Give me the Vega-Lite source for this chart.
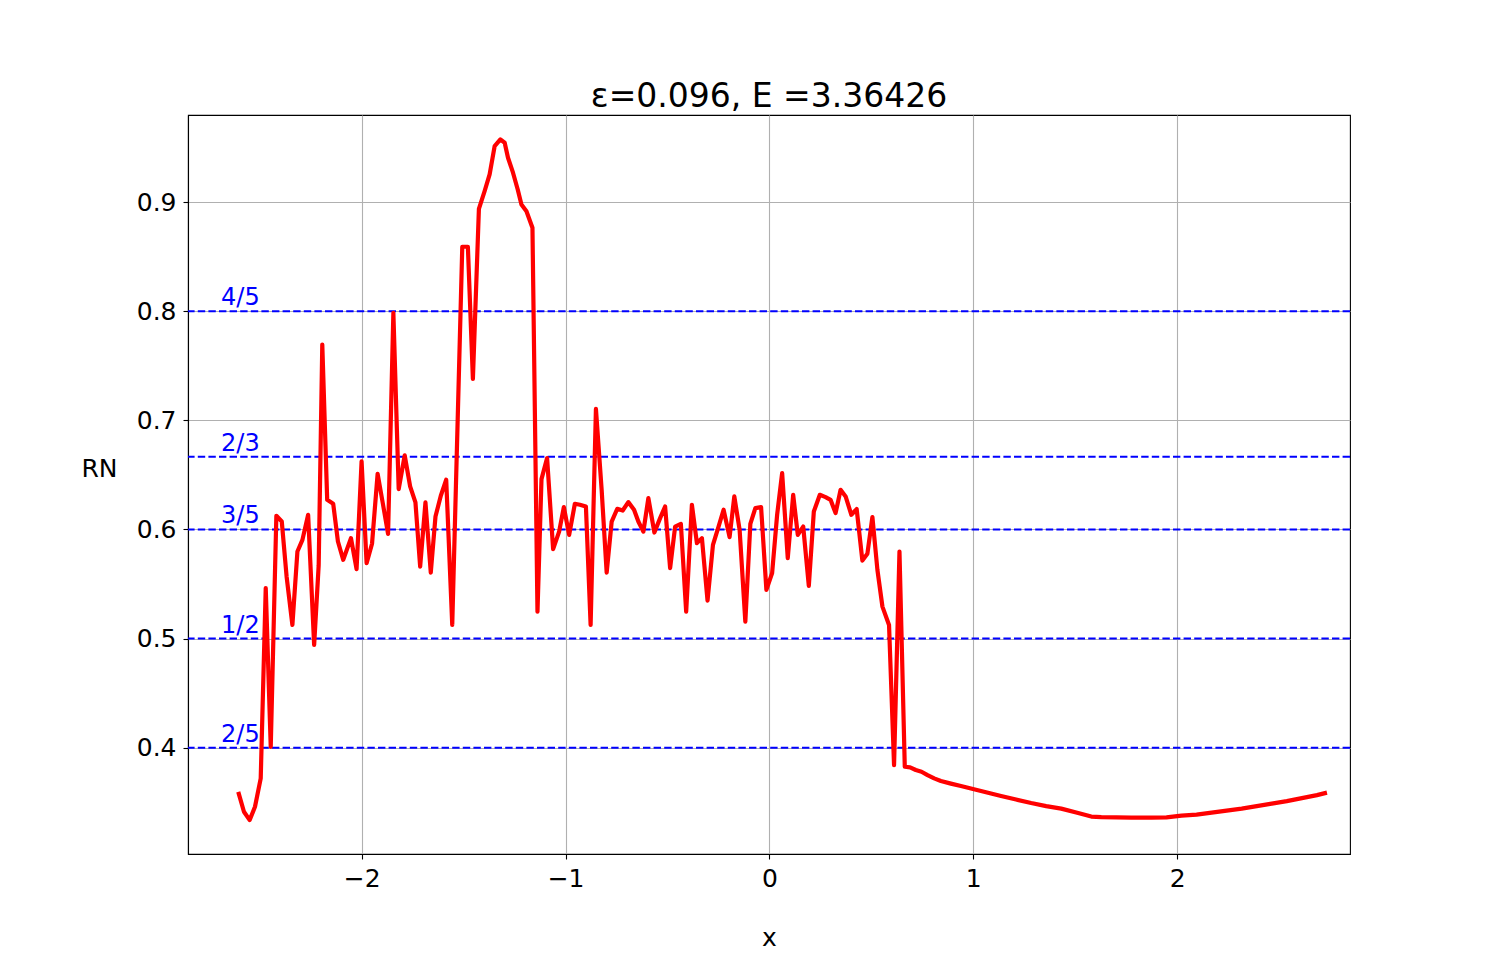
{
  "$schema": "https://vega.github.io/schema/vega-lite/v6.json",
  "width": 1162,
  "height": 739,
  "autosize": {"type": "none"},
  "padding": {"left": 188, "top": 115, "right": 150, "bottom": 105},
  "background": "white",
  "config": {
    "font": "DejaVu Sans",
    "view": {"stroke": "black", "strokeWidth": 1.1},
    "axis": {
      "labelFont": "DejaVu Sans",
      "titleFont": "DejaVu Sans",
      "labelFontSize": 25,
      "titleFontSize": 25,
      "titleFontWeight": "normal",
      "labelColor": "black",
      "titleColor": "black",
      "tickColor": "black",
      "tickSize": 5,
      "tickWidth": 1.1,
      "domainColor": "black",
      "domainWidth": 1.1,
      "gridColor": "#b0b0b0",
      "gridOpacity": 1,
      "gridWidth": 1.1,
      "labelPadding": 7
    }
  },
  "title": {
    "text": "ε=0.096, E =3.36426",
    "font": "DejaVu Sans",
    "fontSize": 33,
    "fontWeight": "normal",
    "color": "black",
    "anchor": "middle",
    "baseline": "bottom",
    "offset": -32
  },
  "datasets": {
    "levels": [
      {"value": 0.8, "label": "4/5"},
      {"value": 0.6666667, "label": "2/3"},
      {"value": 0.6, "label": "3/5"},
      {"value": 0.5, "label": "1/2"},
      {"value": 0.4, "label": "2/5"}
    ],
    "curve": [
      {"x": -2.6055, "y": 0.3595}, {"x": -2.5775, "y": 0.3412}, {"x": -2.5494, "y": 0.3336}, {"x": -2.5234, "y": 0.3458},
      {"x": -2.4953, "y": 0.3718}, {"x": -2.4707, "y": 0.5462}, {"x": -2.4461, "y": 0.4008}, {"x": -2.4186, "y": 0.6126},
      {"x": -2.392, "y": 0.6073}, {"x": -2.3684, "y": 0.557}, {"x": -2.3399, "y": 0.5125}, {"x": -2.3153, "y": 0.5798},
      {"x": -2.2907, "y": 0.5905}, {"x": -2.2627, "y": 0.6135}, {"x": -2.2332, "y": 0.4942}, {"x": -2.211, "y": 0.567},
      {"x": -2.1933, "y": 0.7695}, {"x": -2.1692, "y": 0.6272}, {"x": -2.1397, "y": 0.6236}, {"x": -2.1165, "y": 0.589},
      {"x": -2.0905, "y": 0.5722}, {"x": -2.0526, "y": 0.5921}, {"x": -2.0251, "y": 0.5636}, {"x": -2.0005, "y": 0.6624},
      {"x": -1.9759, "y": 0.5691}, {"x": -1.9493, "y": 0.5869}, {"x": -1.9218, "y": 0.6511}, {"x": -1.896, "y": 0.6236},
      {"x": -1.8706, "y": 0.596}, {"x": -1.8446, "y": 0.7986}, {"x": -1.8185, "y": 0.6371}, {"x": -1.789, "y": 0.6679},
      {"x": -1.7624, "y": 0.6395}, {"x": -1.7363, "y": 0.6248}, {"x": -1.7132, "y": 0.566}, {"x": -1.6872, "y": 0.6248},
      {"x": -1.6611, "y": 0.5605}, {"x": -1.638, "y": 0.6119}, {"x": -1.6119, "y": 0.6309}, {"x": -1.5854, "y": 0.6456},
      {"x": -1.5558, "y": 0.5125}, {"x": -1.5066, "y": 0.8592}, {"x": -1.4791, "y": 0.8592}, {"x": -1.4545, "y": 0.738},
      {"x": -1.425, "y": 0.894}, {"x": -1.397, "y": 0.9102}, {"x": -1.3724, "y": 0.9255}, {"x": -1.3478, "y": 0.9515},
      {"x": -1.3197, "y": 0.9576}, {"x": -1.2986, "y": 0.9546}, {"x": -1.2823, "y": 0.9408}, {"x": -1.2577, "y": 0.9271},
      {"x": -1.2346, "y": 0.9117}, {"x": -1.2164, "y": 0.898}, {"x": -1.1918, "y": 0.8918}, {"x": -1.1623, "y": 0.8766},
      {"x": -1.1377, "y": 0.5247}, {"x": -1.118, "y": 0.6462}, {"x": -1.0905, "y": 0.6655}, {"x": -1.061, "y": 0.582},
      {"x": -1.0315, "y": 0.598}, {"x": -1.0084, "y": 0.6205}, {"x": -0.9823, "y": 0.5951}, {"x": -0.9543, "y": 0.6236},
      {"x": -0.9297, "y": 0.6227}, {"x": -0.9001, "y": 0.6211}, {"x": -0.877, "y": 0.5125}, {"x": -0.851, "y": 0.7105},
      {"x": -0.8229, "y": 0.6364}, {"x": -0.7983, "y": 0.5605}, {"x": -0.7737, "y": 0.6073}, {"x": -0.7462, "y": 0.619},
      {"x": -0.7196, "y": 0.6174}, {"x": -0.6921, "y": 0.6251}, {"x": -0.664, "y": 0.6181}, {"x": -0.6429, "y": 0.6073},
      {"x": -0.6183, "y": 0.5981}, {"x": -0.5937, "y": 0.6288}, {"x": -0.5642, "y": 0.5972}, {"x": -0.5361, "y": 0.6104},
      {"x": -0.5116, "y": 0.6211}, {"x": -0.487, "y": 0.5646}, {"x": -0.4624, "y": 0.6027}, {"x": -0.4343, "y": 0.6052},
      {"x": -0.4083, "y": 0.5247}, {"x": -0.3802, "y": 0.6227}, {"x": -0.3556, "y": 0.5875}, {"x": -0.331, "y": 0.5921},
      {"x": -0.3035, "y": 0.5348}, {"x": -0.2769, "y": 0.5859}, {"x": -0.2494, "y": 0.6027}, {"x": -0.2248, "y": 0.6181},
      {"x": -0.1953, "y": 0.593}, {"x": -0.1722, "y": 0.6303}, {"x": -0.1461, "y": 0.5997}, {"x": -0.1181, "y": 0.5155},
      {"x": -0.0935, "y": 0.6052}, {"x": -0.0689, "y": 0.6196}, {"x": -0.0408, "y": 0.6205}, {"x": -0.0148, "y": 0.5446},
      {"x": 0.0133, "y": 0.56}, {"x": 0.0379, "y": 0.6135}, {"x": 0.0625, "y": 0.6517}, {"x": 0.09, "y": 0.5737},
      {"x": 0.1166, "y": 0.6318}, {"x": 0.1392, "y": 0.5951}, {"x": 0.1658, "y": 0.6027}, {"x": 0.1933, "y": 0.5483},
      {"x": 0.2179, "y": 0.6165}, {"x": 0.2474, "y": 0.6318}, {"x": 0.2755, "y": 0.6297}, {"x": 0.3, "y": 0.6272},
      {"x": 0.3246, "y": 0.615}, {"x": 0.3492, "y": 0.6364}, {"x": 0.3738, "y": 0.6303}, {"x": 0.4019, "y": 0.6135},
      {"x": 0.428, "y": 0.6187}, {"x": 0.456, "y": 0.5715}, {"x": 0.4806, "y": 0.5777}, {"x": 0.5052, "y": 0.6114},
      {"x": 0.5298, "y": 0.563}, {"x": 0.5544, "y": 0.5293}, {"x": 0.5868, "y": 0.5125}, {"x": 0.6114, "y": 0.384},
      {"x": 0.638, "y": 0.5798}, {"x": 0.664, "y": 0.3825}, {"x": 0.6901, "y": 0.3819}, {"x": 0.7181, "y": 0.3795},
      {"x": 0.7462, "y": 0.3779}, {"x": 0.7757, "y": 0.3748}, {"x": 0.8082, "y": 0.3718}, {"x": 0.8411, "y": 0.3694},
      {"x": 0.8903, "y": 0.367}, {"x": 0.9395, "y": 0.3648}, {"x": 0.9887, "y": 0.3625}, {"x": 1.0379, "y": 0.3602},
      {"x": 1.0871, "y": 0.3579}, {"x": 1.1363, "y": 0.3556}, {"x": 1.21, "y": 0.3524}, {"x": 1.2838, "y": 0.3492},
      {"x": 1.3576, "y": 0.3464}, {"x": 1.4314, "y": 0.3441}, {"x": 1.5052, "y": 0.3405}, {"x": 1.579, "y": 0.3368},
      {"x": 1.6281, "y": 0.3363}, {"x": 1.7019, "y": 0.336}, {"x": 1.7757, "y": 0.3359}, {"x": 1.874, "y": 0.3359},
      {"x": 1.9479, "y": 0.3361}, {"x": 2.0216, "y": 0.3377}, {"x": 2.0954, "y": 0.3386}, {"x": 2.1692, "y": 0.3404},
      {"x": 2.243, "y": 0.3423}, {"x": 2.3168, "y": 0.3441}, {"x": 2.3906, "y": 0.3464}, {"x": 2.4643, "y": 0.3487},
      {"x": 2.5381, "y": 0.351}, {"x": 2.612, "y": 0.3537}, {"x": 2.686, "y": 0.3565}, {"x": 2.735, "y": 0.3588}
    ]
  },
  "layer": [
    {
      "data": {"name": "curve"},
      "mark": {"type": "line", "color": "red", "strokeWidth": 4, "strokeJoin": "round", "opacity": 0},
      "encoding": {
        "x": {
          "field": "x", "type": "quantitative",
          "scale": {"domain": [-2.852, 2.848], "nice": false, "zero": false},
          "axis": {"title": "x", "values": [-2, -1, 0, 1, 2], "format": "d", "grid": true, "titleY": 91, "titleBaseline": "alphabetic"}
        },
        "y": {
          "field": "y", "type": "quantitative",
          "scale": {"domain": [0.3025, 0.98], "nice": false, "zero": false},
          "axis": {"title": "RN", "values": [0.4, 0.5, 0.6, 0.7, 0.8, 0.9], "format": ".1f", "grid": true, "titleAngle": 0, "titleAlign": "right", "titleBaseline": "middle", "titleX": -71, "titleY": 353}
        }
      }
    },
    {
      "data": {"name": "levels"},
      "mark": {"type": "rule", "color": "blue", "strokeWidth": 2, "strokeDash": [7.4, 3.2]},
      "encoding": {
        "y": {"field": "value", "type": "quantitative",
          "scale": {"domain": [0.3025, 0.98], "nice": false, "zero": false},
          "axis": {"title": "RN", "values": [0.4, 0.5, 0.6, 0.7, 0.8, 0.9], "format": ".1f", "grid": true, "titleAngle": 0, "titleAlign": "right", "titleBaseline": "middle", "titleX": -71, "titleY": 353}
        }
      }
    },
    {
      "data": {"name": "levels"},
      "mark": {"type": "text", "color": "blue", "fontSize": 24, "font": "DejaVu Sans", "align": "left", "baseline": "alphabetic", "dy": -6},
      "encoding": {
        "x": {"datum": -2.69, "type": "quantitative",
          "scale": {"domain": [-2.852, 2.848], "nice": false, "zero": false},
          "axis": {"title": "x", "values": [-2, -1, 0, 1, 2], "format": "d", "grid": true, "titleY": 91, "titleBaseline": "alphabetic"}
        },
        "y": {"field": "value", "type": "quantitative",
          "scale": {"domain": [0.3025, 0.98], "nice": false, "zero": false},
          "axis": {"title": "RN", "values": [0.4, 0.5, 0.6, 0.7, 0.8, 0.9], "format": ".1f", "grid": true, "titleAngle": 0, "titleAlign": "right", "titleBaseline": "middle", "titleX": -71, "titleY": 353}
        },
        "text": {"field": "label", "type": "nominal"}
      }
    },
    {
      "data": {"name": "curve"},
      "mark": {"type": "line", "color": "red", "strokeWidth": 4.2, "strokeJoin": "round"},
      "encoding": {
        "x": {
          "field": "x", "type": "quantitative",
          "scale": {"domain": [-2.852, 2.848], "nice": false, "zero": false},
          "axis": {"title": "x", "values": [-2, -1, 0, 1, 2], "format": "d", "grid": true, "titleY": 91, "titleBaseline": "alphabetic"}
        },
        "y": {
          "field": "y", "type": "quantitative",
          "scale": {"domain": [0.3025, 0.98], "nice": false, "zero": false},
          "axis": {"title": "RN", "values": [0.4, 0.5, 0.6, 0.7, 0.8, 0.9], "format": ".1f", "grid": true, "titleAngle": 0, "titleAlign": "right", "titleBaseline": "middle", "titleX": -71, "titleY": 353}
        }
      }
    }
  ]
}
